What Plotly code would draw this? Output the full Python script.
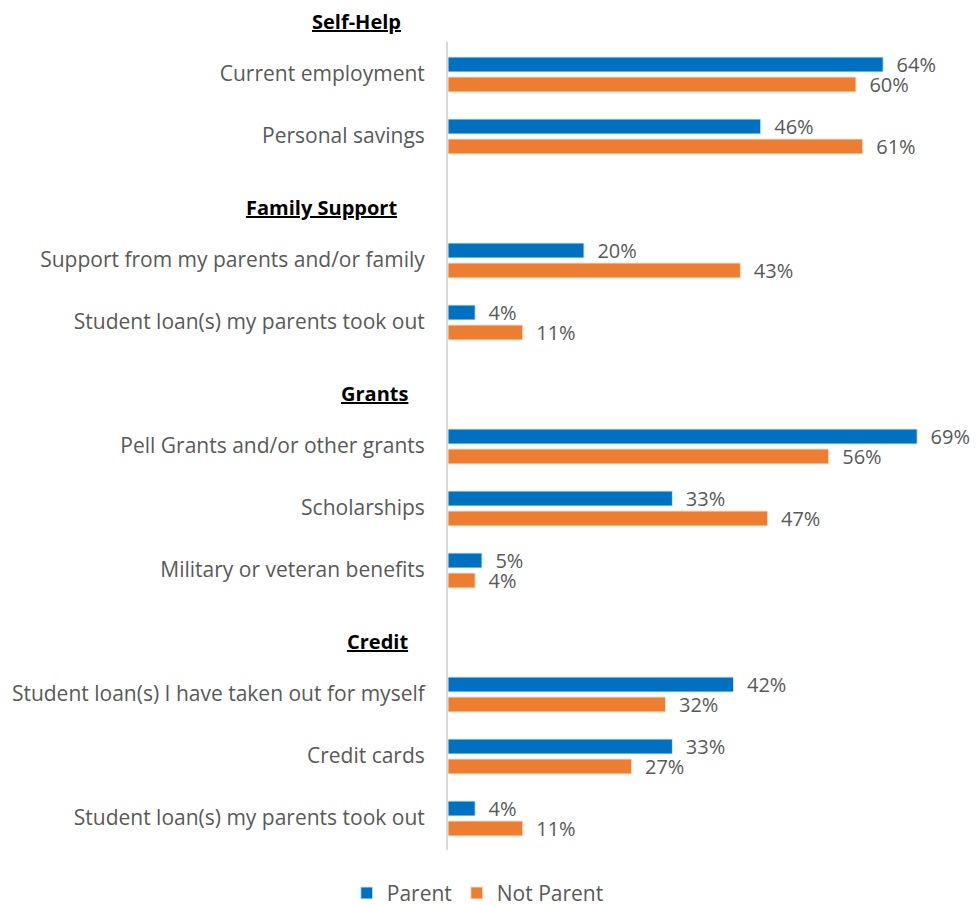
import plotly.graph_objects as go

# Data
categories = [
    "Current employment", "Personal savings",
    "Support from my parents and/or family", "Student loan(s) my parents took out",
    "Pell Grants and/or other grants", "Scholarships", "Military or veteran benefits",
    "Student loan(s) I have taken out for myself", "Credit cards", "Student loan(s) my parents took out",
]
# slot index of each category row (header rows occupy the gaps)
slots = [1, 2, 4, 5, 7, 8, 9, 11, 12, 13]
parent = [64, 46, 20, 4, 69, 33, 5, 42, 33, 4]
not_parent = [60, 61, 43, 11, 56, 47, 4, 32, 27, 11]
headers = ["Self-Help", "Family Support", "Grants", "Credit"]
header_slots = [0, 3, 6, 10]

BLUE = "#0070C0"
ORANGE = "#ED7D31"
GRAY = "#595959"
FONT = "Open Sans"

# plot geometry
TOP, BOTTOM = 42, 850
Y_LO, Y_HI = 0.484, 13.516


def slot_to_paper(s):
    return (Y_HI - s) / (Y_HI - Y_LO)


PAD = "\u00a0\u00a0"

fig = go.Figure()
fig.add_trace(go.Bar(
    name="Parent", y=slots, x=parent, orientation="h",
    marker=dict(color=BLUE, line=dict(color="#DCEBF7", width=1)),
    offset=-0.274, width=0.242,
    text=[f"{PAD}{v}%" for v in parent], textposition="outside",
    textfont=dict(size=20, color=GRAY, family=FONT),
    constraintext="none", cliponaxis=False, hoverinfo="skip",
))
fig.add_trace(go.Bar(
    name="Not Parent", y=slots, x=not_parent, orientation="h",
    marker=dict(color=ORANGE, line=dict(color="#FBE3D6", width=1)),
    offset=0.048, width=0.242,
    text=[f"{PAD}{v}%" for v in not_parent], textposition="outside",
    textfont=dict(size=20, color=GRAY, family=FONT),
    constraintext="none", cliponaxis=False, hoverinfo="skip",
))

header_x = [356, 321, 374, 377]  # pixel centres
for h, s, px in zip(headers, header_slots, header_x):
    fig.add_annotation(
        text=f"<b><u>{h}</u></b>", x=(px - 448) / 510, xref="paper",
        y=slot_to_paper(s + 0.16), yref="paper", showarrow=False,
        xanchor="center", yanchor="middle",
        font=dict(size=20, color="#000000", family=FONT),
    )

fig.update_layout(
    width=979, height=906,
    margin=dict(l=448, r=21, t=TOP, b=906 - BOTTOM),
    paper_bgcolor="white", plot_bgcolor="white",
    barmode="overlay",
    showlegend=True,
    legend=dict(
        orientation="h", xref="container", yref="container",
        x=0.488, y=0.014, xanchor="center", yanchor="middle",
        font=dict(size=21, color=GRAY, family=FONT), traceorder="normal",
    ),
    xaxis=dict(range=[0, 75], showgrid=False, showticklabels=False, zeroline=False, showline=False),
    yaxis=dict(
        range=[Y_HI, Y_LO], tickvals=slots, ticktext=categories,
        showgrid=False, zeroline=False, showline=True, linecolor="#D9D9D9", linewidth=2,
        ticks="", ticklabelstandoff=17,
        tickfont=dict(size=21, color=GRAY, family=FONT),
    ),
    font=dict(family=FONT),
)

fig.write_html("out.html")
